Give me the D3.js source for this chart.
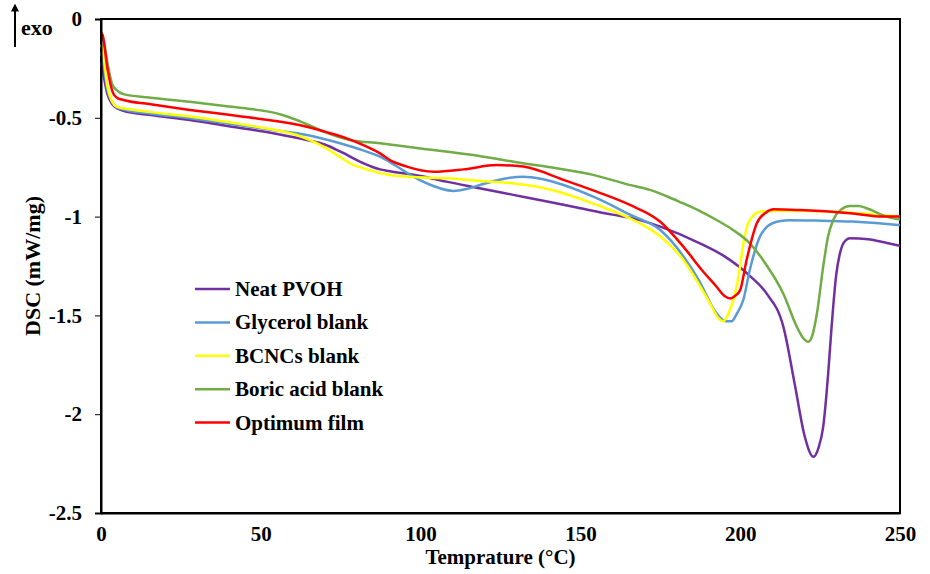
<!DOCTYPE html>
<html>
<head>
<meta charset="utf-8">
<title>DSC curves</title>
<script src="https://d3js.org/d3.v7.min.js"></script>
<style>
  body { margin: 0; background: #fff; }
  svg text { font-family: "Liberation Serif", "Times New Roman", serif; font-weight: bold; }
</style>
</head>
<body>
<div id="chart"></div>
<script>
// data: [temperature (°C), DSC (mW/mg)]
var neatPVOH = [[0,-0.22],[0.5,-0.26],[2,-0.38],[3.5,-0.43],[5,-0.452],[7,-0.464],[15,-0.485],[27.8,-0.511],[40,-0.543],[53.9,-0.578],[64.4,-0.612],[70,-0.635],[74.8,-0.67],[82.1,-0.73],[87.3,-0.761],[90.4,-0.77],[100,-0.795],[108,-0.823],[118,-0.855],[129,-0.89],[140,-0.925],[150,-0.958],[160,-0.99],[166.6,-1.009],[175,-1.051],[187.4,-1.135],[195,-1.2],[203,-1.3],[208.3,-1.39],[213.5,-1.557],[217.2,-1.86],[220,-2.1],[222.9,-2.215],[224.5,-2.17],[226,-2.06],[227.5,-1.8],[228.6,-1.557],[230,-1.3],[231.2,-1.186],[233,-1.12],[234.4,-1.11],[240,-1.115],[245,-1.13],[250,-1.148]];
var glycerol = [[0,-0.17],[0.5,-0.2],[2,-0.36],[3.5,-0.42],[5,-0.448],[7,-0.458],[15,-0.478],[27.8,-0.502],[40,-0.53],[53.9,-0.562],[64.4,-0.587],[74.8,-0.629],[82,-0.665],[87.3,-0.697],[92,-0.74],[97.7,-0.798],[104,-0.845],[110.3,-0.87],[114,-0.862],[118.6,-0.84],[125,-0.812],[132.1,-0.798],[138,-0.81],[144.7,-0.84],[155.1,-0.907],[165.5,-0.99],[175,-1.068],[182.2,-1.2],[187,-1.32],[192.6,-1.49],[195.5,-1.53],[197.3,-1.53],[199,-1.49],[201,-1.42],[203,-1.27],[206.2,-1.1],[208.5,-1.05],[211.4,-1.026],[215,-1.018],[224,-1.02],[235,-1.025],[249.4,-1.042],[250,-1.043]];
var bcncs = [[0,-0.13],[0.5,-0.157],[2,-0.34],[3.5,-0.42],[4.9,-0.444],[7,-0.452],[15,-0.47],[27.8,-0.494],[40,-0.522],[48.7,-0.545],[61.2,-0.587],[69.6,-0.646],[74,-0.69],[77.9,-0.73],[84,-0.765],[90.4,-0.79],[98,-0.8],[108.1,-0.806],[118,-0.818],[129,-0.832],[137,-0.85],[144.7,-0.882],[155.1,-0.941],[165.5,-1.009],[175,-1.1],[182.2,-1.22],[187,-1.34],[190.6,-1.44],[193,-1.51],[194.7,-1.53],[196.3,-1.49],[197.9,-1.42],[199.5,-1.3],[201,-1.135],[203,-1.017],[206.2,-0.975],[212,-0.97],[220,-0.972],[235,-0.98],[250,-1.0]];
var boric = [[0,-0.1],[0.7,-0.106],[2,-0.22],[3.5,-0.33],[4.9,-0.36],[7,-0.38],[15,-0.397],[27.8,-0.419],[40,-0.443],[46,-0.454],[52.9,-0.47],[57,-0.487],[61.2,-0.511],[65.5,-0.54],[69.6,-0.57],[74,-0.595],[77.9,-0.612],[87.3,-0.629],[100,-0.655],[116.5,-0.688],[130,-0.725],[143,-0.757],[154,-0.789],[165,-0.838],[171.8,-0.865],[177,-0.897],[182,-0.932],[187,-0.968],[192.6,-1.017],[198,-1.07],[203,-1.135],[208,-1.24],[213.5,-1.39],[217.7,-1.557],[219.5,-1.61],[221.3,-1.633],[222.6,-1.6],[224,-1.49],[226,-1.25],[227.5,-1.1],[229.1,-1.017],[231.5,-0.965],[234.4,-0.946],[237,-0.946],[239.6,-0.958],[245.8,-1.0],[250,-1.015]];
var optimum = [[0,-0.07],[0.5,-0.081],[2,-0.25],[3.8,-0.376],[5,-0.398],[7,-0.41],[15,-0.43],[27.8,-0.46],[40,-0.485],[48.7,-0.503],[64.4,-0.545],[70,-0.57],[76.9,-0.604],[83,-0.645],[87.3,-0.68],[90.4,-0.714],[95.7,-0.747],[104,-0.773],[113.4,-0.761],[123.8,-0.739],[132.1,-0.747],[144.7,-0.814],[155.1,-0.874],[165.5,-0.941],[175,-1.026],[182.2,-1.152],[188,-1.27],[192.6,-1.355],[195,-1.4],[197,-1.414],[198.5,-1.4],[200,-1.371],[202,-1.22],[205.2,-1.034],[208,-0.98],[210.4,-0.963],[218.7,-0.967],[234.4,-0.983],[244.8,-1.0],[250,-1.0]];

var seriesNames = ["Neat PVOH", "Glycerol blank", "BCNCs blank", "Boric acid blank", "Optimum film"];
var seriesData = [neatPVOH, glycerol, bcncs, boric, optimum];
var seriesColors = ["#7030A0", "#5B9BD5", "#FFFF00", "#70AD47", "#FF0000"];
var xTicks = [0, 50, 100, 150, 200, 250];
var yTicks = [0, -0.5, -1, -1.5, -2, -2.5];

var margin = {top: 19, right: 30, bottom: 61, left: 101};
var width = 930 - margin.left - margin.right;
var height = 574 - margin.top - margin.bottom;

var root = d3.select("#chart")
  .append("svg")
    .attr("width", 930)
    .attr("height", 574);

var svg = root.append("g")
    .attr("transform", "translate(" + margin.left + "," + margin.top + ")");

var x = d3.scaleLinear().domain([0, 250]).range([0, width]);
var y = d3.scaleLinear().domain([-2.5, 0]).range([height, 0]);

// frame (top + right)
svg.append("rect")
  .attr("x", 0).attr("y", 0)
  .attr("width", width).attr("height", height)
  .attr("fill", "none")
  .attr("stroke", "black")
  .attr("stroke-width", 2);

// curves
var line = d3.line()
  .x(function(d) { return x(d[0]); })
  .y(function(d) { return y(d[1]); })
  .curve(d3.curveMonotoneX);

seriesData.forEach(function(data, i) {
  svg.append("path")
    .datum(data)
    .attr("fill", "none")
    .attr("stroke", seriesColors[i])
    .attr("stroke-width", 2.5)
    .attr("stroke-linejoin", "round")
    .attr("d", line);
});

// Y axis
var yAxis = svg.append("g")
  .call(d3.axisLeft(y).tickValues(yTicks).tickSize(6).tickPadding(13)
    .tickFormat(function(d) { return d === 0 ? "0" : String(d); }));
yAxis.select(".domain").attr("stroke-width", 2);
yAxis.selectAll("text").style("font-size", "21px").attr("fill", "black");

// X axis (no tick marks)
var xAxis = svg.append("g")
  .attr("transform", "translate(0," + height + ")")
  .call(d3.axisBottom(x).tickValues(xTicks).tickSize(0).tickPadding(13));
xAxis.select(".domain").attr("stroke-width", 2);
xAxis.selectAll("text").style("font-size", "21px").attr("fill", "black");

// axis titles
svg.append("text")
  .attr("x", width / 2)
  .attr("y", height + 51)
  .style("text-anchor", "middle")
  .style("font-size", "21px")
  .text("Temprature (°C)");

svg.append("text")
  .attr("transform", "rotate(-90)")
  .attr("x", -height / 2)
  .attr("y", -61)
  .style("text-anchor", "middle")
  .style("font-size", "22px")
  .text("DSC (mW/mg)");

// exo arrow
root.append("defs").append("marker")
  .attr("id", "arrow")
  .attr("viewBox", "0 0 10 10")
  .attr("refX", 2).attr("refY", 5)
  .attr("markerWidth", 4).attr("markerHeight", 4)
  .attr("orient", "auto")
  .append("path").attr("d", "M0,0 L10,5 L0,10 z").attr("fill", "black");
root.append("line")
  .attr("x1", 15).attr("y1", 47)
  .attr("x2", 15).attr("y2", 10)
  .attr("stroke", "black")
  .attr("stroke-width", 2)
  .attr("marker-end", "url(#arrow)");
root.append("text")
  .attr("x", 21).attr("y", 35)
  .style("font-size", "22px")
  .text("exo");

// legend
var legend = svg.append("g")
  .attr("transform", "translate(" + (195 - margin.left) + "," + (289 - margin.top) + ")");
seriesNames.forEach(function(name, i) {
  var row = legend.append("g").attr("transform", "translate(0," + (i * 33.4) + ")");
  row.append("line")
    .attr("x1", 0).attr("x2", 35)
    .attr("y1", 0).attr("y2", 0)
    .attr("stroke", seriesColors[i])
    .attr("stroke-width", 2.5);
  row.append("text")
    .attr("x", 40).attr("y", 7)
    .style("font-size", "21px")
    .text(name);
});
</script>
</body>
</html>
